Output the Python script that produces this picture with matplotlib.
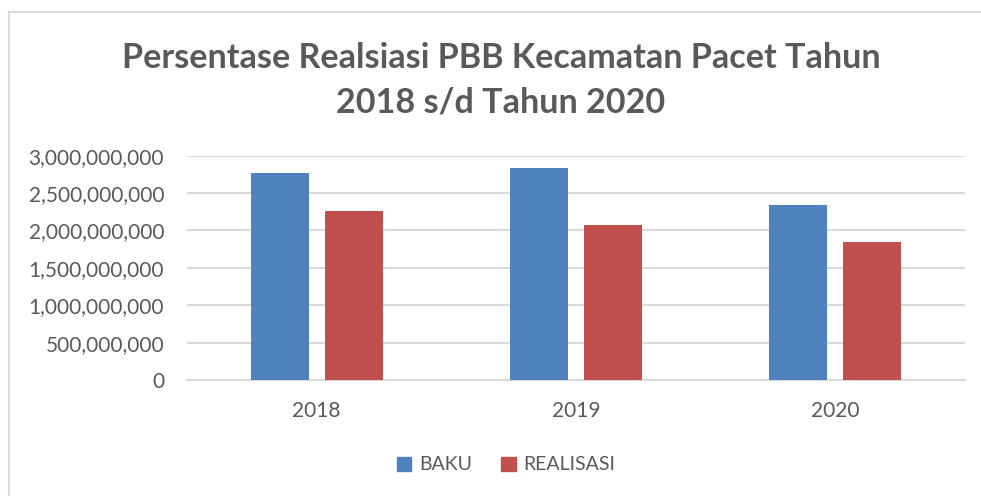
import matplotlib.pyplot as plt
import numpy as np
from matplotlib.patches import Patch
from matplotlib.lines import Line2D

# data
years = ["2018", "2019", "2020"]
baku = [2773000000, 2831000000, 2336000000]
realisasi = [2260000000, 2073000000, 1842000000]
yticks = [0, 500000000, 1000000000, 1500000000, 2000000000, 2500000000, 3000000000]

grey = "#595959"
plt.rcParams['font.family'] = ['Lato', 'DejaVu Sans']

fig = plt.figure(figsize=(9.81, 4.96), dpi=100)
ax = fig.add_axes([187/981, 1-380/496, (965-187)/981, (380-155.7)/496])

x = np.arange(len(years))
w = 0.224
ax.bar(x - 0.143, baku, w, color="#4F81BD", label="BAKU", zorder=3)
ax.bar(x + 0.143, realisasi, w, color="#C0504D", label="REALISASI", zorder=3)

ax.set_xlim(-0.5, 2.5)
ax.set_ylim(0, 3000000000)
ax.set_yticks(yticks)
ax.set_yticklabels([f"{v:,}" for v in yticks])
ax.set_xticks(x)
ax.set_xticklabels(years)
ax.tick_params(axis="both", length=0, labelsize=15, colors=grey)
ax.tick_params(axis="y", pad=16.5)
ax.tick_params(axis="x", pad=15)
ax.grid(axis="y", color="#d9d9d9", lw=1.5, zorder=0)
for s in ["top", "right", "left"]:
    ax.spines[s].set_visible(False)
ax.spines["bottom"].set_color("#d9d9d9")
ax.spines["bottom"].set_linewidth(1.5)

fig.text(501/981, 1-68/496, "Persentase Realsiasi PBB Kecamatan Pacet Tahun",
         ha="center", va="baseline", fontsize=24.6, fontweight="bold", color=grey)
fig.text(501/981, 1-112/496, "2018 s/d Tahun 2020",
         ha="center", va="baseline", fontsize=24.6, fontweight="bold", color=grey)

handles = [Patch(color="#4F81BD", label="BAKU"), Patch(color="#C0504D", label="REALISASI")]
leg = fig.legend(handles=handles, loc="center", bbox_to_anchor=(506/981, 1-465/496),
                 ncol=2, frameon=False, fontsize=14, handlelength=0.75, handleheight=0.75,
                 handletextpad=0.4, columnspacing=1.5)
for t in leg.get_texts():
    t.set_color(grey)

# chart frame (left and top edges visible)
fig.add_artist(Line2D([8.5/981, 8.5/981], [0, 1-12/496], color="#d9d9d9", lw=1.5))
fig.add_artist(Line2D([8.5/981, 1], [1-12/496, 1-12/496], color="#d9d9d9", lw=1.5))

fig.savefig("out.png", dpi=100)
